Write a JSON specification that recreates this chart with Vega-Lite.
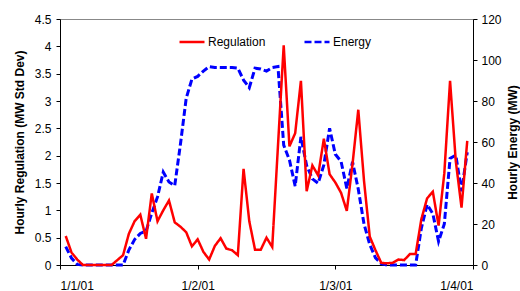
{
  "$schema": "https://vega.github.io/schema/vega-lite/v6.json",
  "autosize": {"type": "none"},
  "padding": {"left": 60, "top": 19, "right": 47, "bottom": 26},
  "width": 413,
  "height": 246,
  "background": "white",
  "config": {
    "view": {"stroke": "#888888", "strokeWidth": 1},
    "font": "Liberation Sans",
    "axis": {"grid": false, "domainColor": "black", "tickColor": "black", "labelColor": "black", "titleColor": "black", "labelFontSize": 12, "titleFontSize": 12, "titleFontWeight": "bold", "labelFont": "Liberation Sans", "titleFont": "Liberation Sans"}
  },
  "data": {"values": [
    {"h":1,"Regulation":0.53,"Energy":9.0},
    {"h":2,"Regulation":0.23,"Energy":3.4},
    {"h":3,"Regulation":0.10,"Energy":0.3},
    {"h":4,"Regulation":0,"Energy":0},
    {"h":5,"Regulation":0,"Energy":0},
    {"h":6,"Regulation":0,"Energy":0},
    {"h":7,"Regulation":0,"Energy":0},
    {"h":8,"Regulation":0,"Energy":0},
    {"h":9,"Regulation":0,"Energy":0},
    {"h":10,"Regulation":0.09,"Energy":0},
    {"h":11,"Regulation":0.18,"Energy":0},
    {"h":12,"Regulation":0.57,"Energy":7.3},
    {"h":13,"Regulation":0.80,"Energy":12.4},
    {"h":14,"Regulation":0.92,"Energy":15.4},
    {"h":15,"Regulation":0.48,"Energy":16.5},
    {"h":16,"Regulation":1.31,"Energy":25.3},
    {"h":17,"Regulation":0.80,"Energy":33.2},
    {"h":18,"Regulation":1.00,"Energy":45.3},
    {"h":19,"Regulation":1.18,"Energy":40.5},
    {"h":20,"Regulation":0.78,"Energy":38.7},
    {"h":21,"Regulation":0.70,"Energy":59},
    {"h":22,"Regulation":0.60,"Energy":81.3},
    {"h":23,"Regulation":0.34,"Energy":90.7},
    {"h":24,"Regulation":0.47,"Energy":92},
    {"h":25,"Regulation":0.24,"Energy":94.6},
    {"h":26,"Regulation":0.10,"Energy":96.8},
    {"h":27,"Regulation":0.35,"Energy":96.3},
    {"h":28,"Regulation":0.49,"Energy":96.3},
    {"h":29,"Regulation":0.30,"Energy":96.3},
    {"h":30,"Regulation":0.27,"Energy":96.3},
    {"h":31,"Regulation":0.18,"Energy":96},
    {"h":32,"Regulation":1.76,"Energy":90.2},
    {"h":33,"Regulation":0.80,"Energy":86.5},
    {"h":34,"Regulation":0.28,"Energy":96},
    {"h":35,"Regulation":0.28,"Energy":95.6},
    {"h":36,"Regulation":0.50,"Energy":94.6},
    {"h":37,"Regulation":0.33,"Energy":96.3},
    {"h":38,"Regulation":2.18,"Energy":96.8},
    {"h":39,"Regulation":4.02,"Energy":58.5},
    {"h":40,"Regulation":2.17,"Energy":51.2},
    {"h":41,"Regulation":2.41,"Energy":38.5},
    {"h":42,"Regulation":3.37,"Energy":62.5},
    {"h":43,"Regulation":1.35,"Energy":48.5},
    {"h":44,"Regulation":1.82,"Energy":42},
    {"h":45,"Regulation":1.64,"Energy":39.9},
    {"h":46,"Regulation":2.31,"Energy":48.8},
    {"h":47,"Regulation":1.66,"Energy":66.7},
    {"h":48,"Regulation":1.51,"Energy":54},
    {"h":49,"Regulation":1.32,"Energy":50.5},
    {"h":50,"Regulation":0.99,"Energy":37.4},
    {"h":51,"Regulation":1.85,"Energy":50.3},
    {"h":52,"Regulation":2.84,"Energy":37},
    {"h":53,"Regulation":1.54,"Energy":20},
    {"h":54,"Regulation":0.52,"Energy":10},
    {"h":55,"Regulation":0.27,"Energy":3.5},
    {"h":56,"Regulation":0.04,"Energy":0.7},
    {"h":57,"Regulation":0.03,"Energy":0},
    {"h":58,"Regulation":0.04,"Energy":0},
    {"h":59,"Regulation":0.10,"Energy":0},
    {"h":60,"Regulation":0.09,"Energy":0},
    {"h":61,"Regulation":0.20,"Energy":0},
    {"h":62,"Regulation":0.20,"Energy":0},
    {"h":63,"Regulation":0.84,"Energy":18},
    {"h":64,"Regulation":1.22,"Energy":29.5},
    {"h":65,"Regulation":1.34,"Energy":25},
    {"h":66,"Regulation":0.72,"Energy":11.5},
    {"h":67,"Regulation":1.68,"Energy":20},
    {"h":68,"Regulation":3.37,"Energy":52},
    {"h":69,"Regulation":1.90,"Energy":53.6},
    {"h":70,"Regulation":1.05,"Energy":36},
    {"h":71,"Regulation":2.27,"Energy":55}
  ]},
  "transform": [{"fold": ["Regulation", "Energy"], "as": ["series", "value"]}],
  "encoding": {
    "x": {"field": "h", "type": "quantitative",
      "scale": {"domain": [0, 72], "nice": false, "zero": false},
      "axis": {"title": null, "values": [0, 24, 48, 72], "tickSize": 4, "labelPadding": 11, "labelFontSize": 12,
        "labelExpr": "['1/1/01','1/2/01','1/3/01','1/4/01'][round(datum.value/24)]"}},
    "color": {"field": "series", "type": "nominal",
      "scale": {"domain": ["Regulation", "Energy"], "range": ["#ff0000", "#0000ff"]},
      "legend": {"title": null, "orient": "none", "legendX": 118, "legendY": 9, "direction": "horizontal", "columns": 2,
        "symbolType": "stroke", "symbolSize": 625, "symbolStrokeWidth": 2.5, "labelFontSize": 12, "labelOffset": 2,
        "columnPadding": 33, "padding": 0, "labelColor": "black", "labelFont": "Liberation Sans"}},
    "strokeDash": {"field": "series", "type": "nominal",
      "scale": {"domain": ["Regulation", "Energy"], "range": [[1, 0], [7, 3]]},
      "legend": {"title": null, "orient": "none", "legendX": 118, "legendY": 9, "direction": "horizontal", "columns": 2,
        "symbolType": "stroke", "symbolSize": 625, "symbolStrokeWidth": 2.5, "labelFontSize": 12, "labelOffset": 2,
        "columnPadding": 33, "padding": 0, "labelColor": "black", "labelFont": "Liberation Sans"}}
  },
  "layer": [
    {
      "transform": [{"filter": "datum.series == 'Energy'"}],
      "mark": {"type": "line", "strokeWidth": 3},
      "encoding": {
        "y": {"field": "value", "type": "quantitative",
          "scale": {"domain": [0, 120], "nice": false},
          "axis": {"orient": "right", "title": "Hourly Energy (MW)", "values": [0, 20, 40, 60, 80, 100, 120], "tickSize": 4, "labelPadding": 4, "titlePadding": 18, "titleAngle": 270}}
      }
    },
    {
      "transform": [{"filter": "datum.series == 'Regulation'"}],
      "mark": {"type": "line", "strokeWidth": 2.5},
      "encoding": {
        "y": {"field": "value", "type": "quantitative",
          "scale": {"domain": [0, 4.5], "nice": false},
          "axis": {"orient": "left", "title": "Hourly Regulation (MW Std Dev)", "values": [0, 0.5, 1, 1.5, 2, 2.5, 3, 3.5, 4, 4.5], "format": ".1~f", "tickSize": 4, "labelPadding": 5, "titlePadding": 8}}
      }
    }
  ],
  "resolve": {"scale": {"y": "independent"}}
}
